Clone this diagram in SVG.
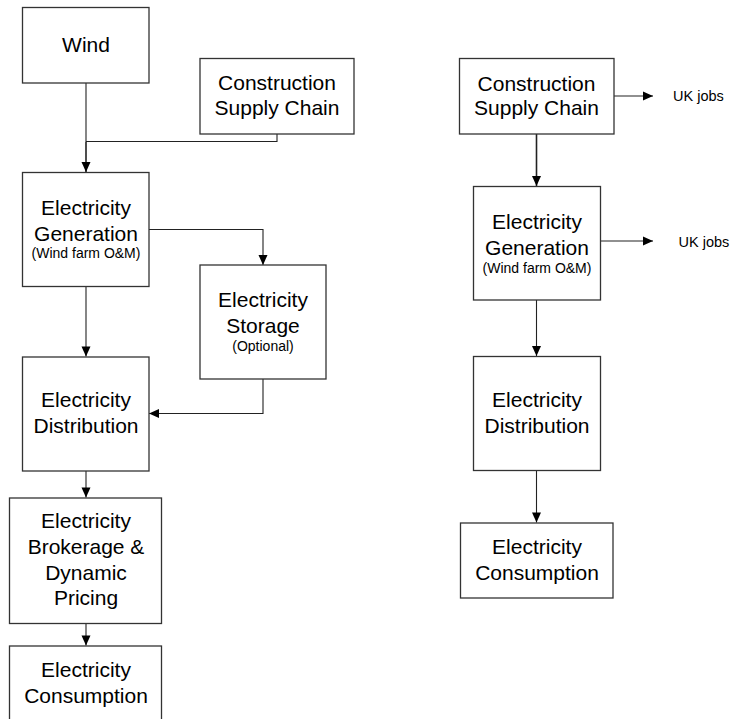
<svg xmlns="http://www.w3.org/2000/svg" width="730" height="719" viewBox="0 0 730 719">
<style>
.box{fill:#fff;stroke:#333;stroke-width:1.3}
.t{font-family:"Liberation Sans",Arial,sans-serif;font-size:21px;fill:#000;text-anchor:middle}
.s{font-family:"Liberation Sans",Arial,sans-serif;font-size:14px;fill:#000;text-anchor:middle}
.j{font-family:"Liberation Sans",Arial,sans-serif;font-size:14.5px;fill:#000}
.c{fill:none;stroke:#222;stroke-width:1.1}
.c2{fill:none;stroke:#222;stroke-width:1.6}
</style>
<defs>
<marker id="ah" markerUnits="userSpaceOnUse" markerWidth="12" markerHeight="12" viewBox="0 0 12 12" refX="11" refY="6" orient="auto">
<path d="M1,1.5 L11,6 L1,10.5 Z" fill="#000"/>
</marker>
</defs>
<rect width="730" height="719" fill="#fff"/>
<g id="connectors">
<polyline class="c" points="277,134 277,141.5 86,141.5"/>
<line class="c" x1="86" y1="83" x2="86" y2="141.5"/>
<line class="c2" x1="86" y1="141.5" x2="86" y2="172" marker-end="url(#ah)"/>
<polyline class="c" points="149,229.5 263,229.5 263,265" marker-end="url(#ah)"/>
<line class="c" x1="86" y1="287" x2="86" y2="356.5" marker-end="url(#ah)"/>
<polyline class="c" points="263,379 263,413.5 149,413.5" marker-end="url(#ah)"/>
<line class="c" x1="86" y1="471" x2="86" y2="497.5" marker-end="url(#ah)"/>
<line class="c" x1="86" y1="623.5" x2="86" y2="645.5" marker-end="url(#ah)"/>
<line class="c" x1="614" y1="96" x2="653" y2="96" marker-end="url(#ah)"/>
<line class="c2" x1="536.5" y1="134" x2="536.5" y2="186" marker-end="url(#ah)"/>
<line class="c" x1="601" y1="241" x2="653" y2="241" marker-end="url(#ah)"/>
<line class="c" x1="536.5" y1="300" x2="536.5" y2="356" marker-end="url(#ah)"/>
<line class="c" x1="536.5" y1="471" x2="536.5" y2="522.5" marker-end="url(#ah)"/>
</g>
<g id="wind">
<rect class="box" x="22.5" y="7.5" width="126.5" height="75.5"/>
<text class="t" x="86" y="52">Wind</text>
</g>
<g id="construction-left">
<rect class="box" x="200" y="58.5" width="154" height="75.5"/>
<text class="t" x="277" y="90">Construction</text>
<text class="t" x="277" y="115">Supply Chain</text>
</g>
<g id="generation-left">
<rect class="box" x="22.5" y="172.5" width="126.5" height="114"/>
<text class="t" x="86" y="215">Electricity</text>
<text class="t" x="86" y="240.5">Generation</text>
<text class="s" x="86" y="258">(Wind farm O&amp;M)</text>
</g>
<g id="storage">
<rect class="box" x="200" y="265" width="126" height="114"/>
<text class="t" x="263" y="307">Electricity</text>
<text class="t" x="263" y="332.5">Storage</text>
<text class="s" x="263" y="351">(Optional)</text>
</g>
<g id="distribution-left">
<rect class="box" x="22.5" y="357" width="126.5" height="114"/>
<text class="t" x="86" y="406.5">Electricity</text>
<text class="t" x="86" y="432.5">Distribution</text>
</g>
<g id="brokerage">
<rect class="box" x="9.5" y="498" width="152" height="125.5"/>
<text class="t" x="86" y="527.5">Electricity</text>
<text class="t" x="86" y="553.5">Brokerage &amp;</text>
<text class="t" x="86" y="579.5">Dynamic</text>
<text class="t" x="86" y="605">Pricing</text>
</g>
<g id="consumption-left">
<rect class="box" x="9.5" y="646" width="152" height="80"/>
<text class="t" x="86" y="676.5">Electricity</text>
<text class="t" x="86" y="702.5">Consumption</text>
</g>
<g id="construction-right">
<rect class="box" x="459.5" y="58.5" width="154.5" height="75.5"/>
<text class="t" x="536.5" y="90.5">Construction</text>
<text class="t" x="536.5" y="115">Supply Chain</text>
</g>
<g id="jobs-1">
<text class="j" x="673" y="101">UK jobs</text>
</g>
<g id="generation-right">
<rect class="box" x="473.5" y="186.5" width="127" height="113.5"/>
<text class="t" x="537" y="228.5">Electricity</text>
<text class="t" x="537" y="255">Generation</text>
<text class="s" x="537" y="272.5">(Wind farm O&amp;M)</text>
</g>
<g id="jobs-2">
<text class="j" x="678.5" y="246.5">UK jobs</text>
</g>
<g id="distribution-right">
<rect class="box" x="473.5" y="356.5" width="127" height="114"/>
<text class="t" x="537" y="407">Electricity</text>
<text class="t" x="537" y="432.5">Distribution</text>
</g>
<g id="consumption-right">
<rect class="box" x="460.5" y="523" width="152.5" height="75"/>
<text class="t" x="537" y="553.5">Electricity</text>
<text class="t" x="537" y="579.5">Consumption</text>
</g>
</svg>
